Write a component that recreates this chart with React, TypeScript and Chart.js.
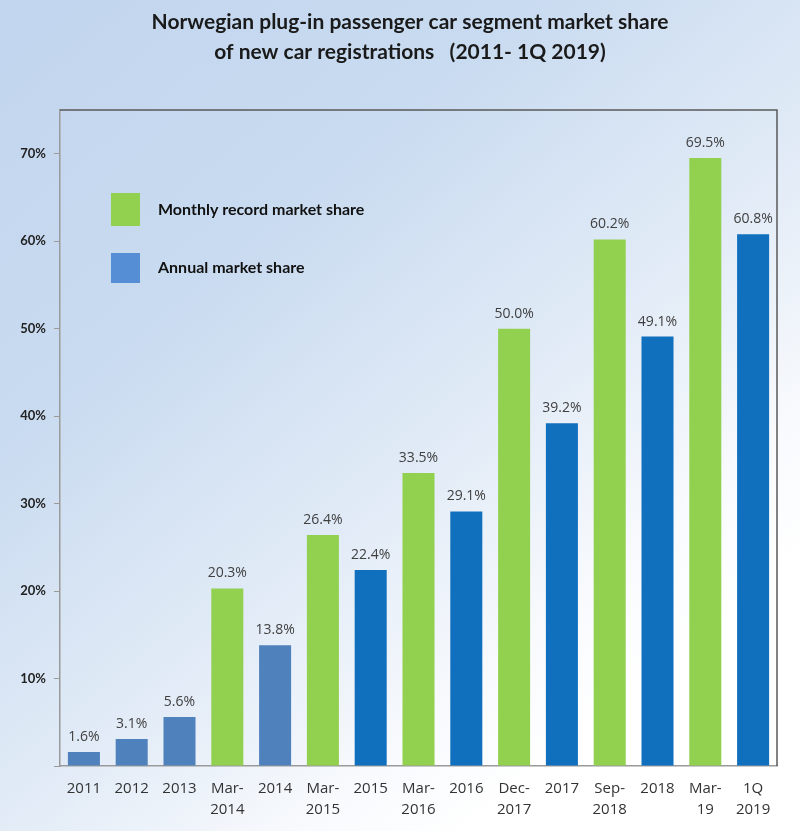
import React, { useEffect, useRef } from "react";
import { Chart, registerables } from "chart.js";

Chart.register(...registerables);

const titleLines = [
  "Norwegian plug-in passenger car segment market share",
  "of new car registrations   (2011- 1Q 2019)",
];
const categories = [
  "2011", "2012", "2013", "Mar-2014", "2014", "Mar-2015", "2015", "Mar-2016",
  "2016", "Dec-2017", "2017", "Sep-2018", "2018", "Mar-19", "1Q 2019",
];
const monthlyRecord = [null, null, null, 20.3, null, 26.4, null, 33.5, null, 50.0, null, 60.2, null, 69.5, null];
const annualShare = [1.6, 3.1, 5.6, null, 13.8, null, 22.4, null, 29.1, null, 39.2, null, 49.1, null, 60.8];
const yTicks = [0, 10, 20, 30, 40, 50, 60, 70];
const legendLabels = ["Monthly record market share", "Annual market share"];
const darkBlueFrom = "2015";

const GREEN = "#92d050";
const BLUE_OLD = "#4f81bd";
const BLUE_NEW = "#1170be";
const LEGEND_BLUE = "#558ed5";

const W = 800;
const H = 831;

export default function App() {
  const ref = useRef<HTMLCanvasElement | null>(null);

  useEffect(() => {
    const canvas = ref.current;
    if (!canvas) return;
    const darkIdx = categories.indexOf(darkBlueFrom);

    const decor = {
      id: "decor",
      afterDraw(chart: any) {
        const ctx = chart.ctx;
        const a = chart.chartArea;
        ctx.save();
        // top/right frame
        ctx.strokeStyle = "#5a5a5a";
        ctx.lineWidth = 1.5;
        ctx.beginPath();
        ctx.moveTo(a.left, a.top);
        ctx.lineTo(a.right, a.top);
        ctx.lineTo(a.right, a.bottom);
        ctx.stroke();

        // title
        ctx.fillStyle = "#1a1a1a";
        ctx.font = "bold 21px Lato";
        ctx.textAlign = "center";
        ctx.textBaseline = "middle";
        titleLines.forEach((t, i) => ctx.fillText(t, 410, 22 + i * 30));

        // data labels
        ctx.font = "14px 'Open Sans'";
        ctx.fillStyle = "#404040";
        ctx.textBaseline = "middle";
        chart.data.datasets.forEach((ds: any, di: number) => {
          const meta = chart.getDatasetMeta(di);
          meta.data.forEach((bar: any, i: number) => {
            const v = ds.data[i];
            if (v === null || v === undefined) return;
            ctx.fillText(v.toFixed(1) + "%", bar.x, bar.y - 15);
          });
        });

        // legend
        const lx = a.left + 51;
        const colors = [GREEN, LEGEND_BLUE];
        const tops = [a.top + 83, a.top + 143];
        const hs = [33, 30];
        ctx.font = "bold 16px Lato";
        ctx.textAlign = "left";
        legendLabels.forEach((lab, i) => {
          ctx.fillStyle = colors[i];
          ctx.fillRect(lx, tops[i], 29, hs[i]);
          ctx.fillStyle = "#111";
          ctx.fillText(lab, lx + 47, tops[i] + hs[i] / 2);
        });
        ctx.restore();
      },
    };

    const chart = new Chart(canvas, {
      type: "bar",
      data: {
        labels: categories,
        datasets: [
          {
            label: legendLabels[0],
            data: monthlyRecord as any,
            backgroundColor: GREEN,
            grouped: false,
            barPercentage: 0.67,
            categoryPercentage: 1,
          } as any,
          {
            label: legendLabels[1],
            data: annualShare as any,
            backgroundColor: categories.map((_, i) => (i < darkIdx ? BLUE_OLD : BLUE_NEW)),
            grouped: false,
            barPercentage: 0.67,
            categoryPercentage: 1,
          } as any,
        ],
      },
      options: {
        responsive: false,
        animation: false,
        layout: { padding: { top: 110, right: 23, left: 0, bottom: 0 } },
        plugins: {
          legend: { display: false },
          title: { display: false },
          tooltip: { enabled: false },
        },
        scales: {
          x: {
            grid: { display: false, drawTicks: false },
            border: { display: true, color: "#9a9a9a", width: 1.5 },
            ticks: {
              color: "#333",
              font: { family: "'Open Sans'", size: 15, lineHeight: 1.4 },
              padding: 12,
              maxRotation: 0,
              autoSkip: false,
              callback: (_v: any, i: number) => {
                const s = categories[i];
                if (s.includes("-")) {
                  const k = s.indexOf("-");
                  return [s.slice(0, k + 1), s.slice(k + 1)];
                }
                if (s.includes(" ")) return s.split(" ");
                return s;
              },
            },
            afterFit: (s: any) => {
              s.height = 65;
            },
          },
          y: {
            min: 0,
            max: 75,
            afterBuildTicks: (s: any) => {
              s.ticks = yTicks.map((v) => ({ value: v }));
            },
            grid: { drawOnChartArea: false, drawTicks: true, tickLength: 6, color: "#9a9a9a" },
            border: { display: true, color: "#9a9a9a", width: 1.5 },
            ticks: {
              color: "#222",
              font: { family: "Lato", size: 13, weight: "bold" },
              padding: 8,
              callback: (v: any) => (v === 0 ? "" : v + "%"),
            },
            afterFit: (s: any) => {
              s.width = 60;
            },
          },
        },
      },
      plugins: [decor],
    });
    return () => chart.destroy();
  }, []);

  return (
    <div
      style={{
        position: "absolute",
        left: 0,
        top: 0,
        width: W,
        height: H,
        background:
          "linear-gradient(140deg, #c1d5ee 0%, #c9dbf0 30%, #e3ecf7 56%, #f8fafd 72%, #ffffff 82%)",
      }}
    >
      <canvas ref={ref} width={W} height={H} style={{ display: "block", width: W, height: H }} />
    </div>
  );
}
